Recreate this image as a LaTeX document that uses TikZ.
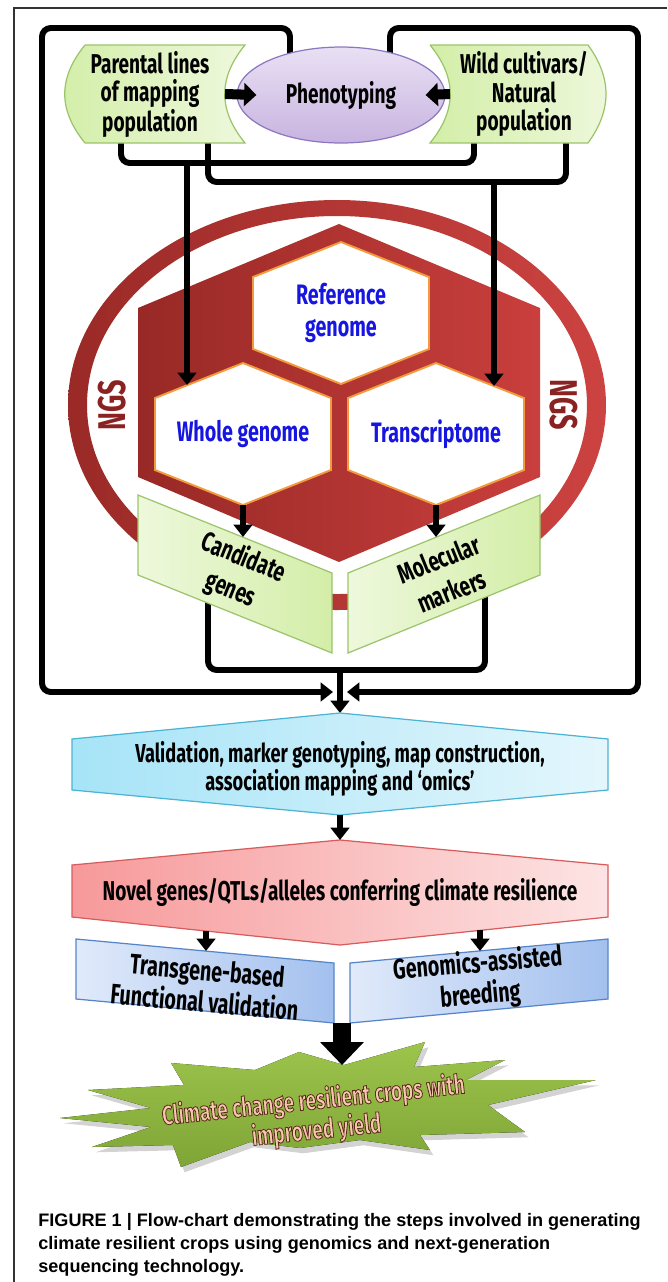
\documentclass[tikz,border=0pt]{standalone}
\usepackage{fontspec}
\usetikzlibrary{positioning,shapes.geometric,arrows.meta,shadows}
\setmainfont{Liberation Sans}
\newfontfamily\agency[FakeStretch=0.7]{Fira Sans}

\definecolor{ringL}{HTML}{9A2A27}
\definecolor{ringR}{HTML}{CC4341}
\definecolor{hexL}{HTML}{982926}
\definecolor{hexR}{HTML}{C93F3D}
\definecolor{hexedge}{HTML}{F39A3C}
\definecolor{hexblue}{HTML}{1616E0}
\definecolor{ngsred}{HTML}{8A2222}
\definecolor{leafA}{HTML}{D3EEA8}
\definecolor{leafB}{HTML}{EEF8DC}
\definecolor{leafedge}{HTML}{9CC46A}
\definecolor{lilacT}{HTML}{E9E0F4}
\definecolor{lilacB}{HTML}{C8B4E0}
\definecolor{lilacedge}{HTML}{8C78C0}
\definecolor{aquaL}{HTML}{A6E4F7}
\definecolor{aquaR}{HTML}{E4F6FC}
\definecolor{aquaedge}{HTML}{4BB4D4}
\definecolor{roseL}{HTML}{F7999A}
\definecolor{roseR}{HTML}{FDE4E4}
\definecolor{roseedge}{HTML}{D85C5C}
\definecolor{skyL}{HTML}{E0EAFA}
\definecolor{skyR}{HTML}{A3C0EE}
\definecolor{skyedge}{HTML}{5585C8}
\definecolor{starT}{HTML}{9DC44C}
\definecolor{starB}{HTML}{7FA536}
\definecolor{startxt}{HTML}{F6C8B0}

\begin{document}
\begin{tikzpicture}[x=0.02cm,y=-0.02cm,
  conn/.style={line width=3.4pt,rounded corners=5pt},
  arr/.style={line width=3.4pt,-{Triangle[width=10.5pt,length=7pt]}},
  blockarr/.style={line width=5.7pt,-{Triangle[width=13pt,length=7pt]}},
  bigarr/.style={line width=10.8pt,-{Triangle[width=24pt,length=13pt]}},
  toptext/.style={font=\agency\bfseries\fontsize{15.5}{16}\selectfont,align=center},
  hextext/.style={font=\agency\bfseries\fontsize{16}{18}\selectfont,align=center,text=hexblue},
  midtext/.style={font=\agency\bfseries\fontsize{15.5}{19.5}\selectfont,align=center},
  flowtext/.style={font=\agency\bfseries\fontsize{14.8}{13.5}\selectfont,align=center},
  boxtext/.style={font=\agency\bfseries\fontsize{16}{18}\selectfont,align=center},
  startext/.style={font=\agency\bfseries\fontsize{15.5}{17}\selectfont,align=center},
  ngstext/.style={font=\agency\bfseries\fontsize{22}{22}\selectfont,text=ngsred},
  leafbox/.style={draw=leafedge,line width=0.7pt,left color=leafA,right color=leafB},
  candbox/.style={draw=leafedge,line width=0.7pt,left color=leafB,right color=leafA},
  whitehex/.style={draw=hexedge,fill=white,line width=1.1pt}]

\useasboundingbox (0,0) rectangle (667,1282);

% frame
\draw[line width=0.7pt,black!80] (14,1282) -- (14,8) -- (667,8);

% connector ends
\coordinate (phenoL) at (290,95);
\coordinate (phenoR) at (390,95);
\coordinate (cornerTL) at (42,28);
\coordinate (cornerTR) at (638,28);
\coordinate (mergeL) at (333,692);
\coordinate (mergeR) at (347,692);
\coordinate (parental-b1) at (121,130);
\coordinate (parental-b2) at (208,130);
\coordinate (wild-b1) at (474,130);
\coordinate (wild-b2) at (566,130);
\coordinate (lineA) at (187,163);
\coordinate (lineB) at (494,182);

\draw[conn,arr] (phenoL) |- (cornerTL) |- (mergeL);
\draw[conn,arr] (phenoR) |- (cornerTR) |- (mergeR);
\draw[conn] (parental-b1) |- (lineA) -| (wild-b1);
\draw[conn] (parental-b2) |- (lineB) -| (wild-b2);

% top row
\draw[leafbox] (85,45) -- (245,45) .. controls (218,78) and (218,110) .. (245,143)
  -- (85,143) .. controls (58,110) and (58,78) .. (85,45);
\draw[leafbox] (430,45) -- (588,45) .. controls (612,78) and (612,110) .. (588,143)
  -- (430,143) .. controls (457,110) and (457,78) .. (430,45);
\node[toptext] (parental) at (150,94) {Parental lines\\of mapping\\population};
\node[toptext] (wild) at (524,94) {Wild cultivars/\\Natural\\population};
\node[ellipse,draw=lilacedge,line width=0.7pt,top color=lilacT,bottom color=lilacB,
  minimum width=4.16cm,minimum height=1.92cm,toptext] (pheno) at (341,95) {Phenotyping};
\coordinate (parental-e) at (225,94);
\coordinate (wild-w) at (450,94);
\draw[blockarr] (parental-e) -- ([xshift=0.4cm]pheno.west);
\draw[blockarr] (wild-w) -- ([xshift=-0.4cm]pheno.east);

% NGS ring and hexagon block
\shade[even odd rule,left color=ringL,right color=ringR]
  (337,405) ellipse [x radius=269,y radius=205]
  (337,405) ellipse [x radius=250,y radius=189];
\node[ngstext,rotate=90] (ngsL) at (112,405) {NGS};
\node[ngstext,rotate=-90] (ngsR) at (564,405) {NGS};
\shade[left color=hexL,right color=hexR]
  (339,224) -- (540,308) -- (540,477) -- (339,562) -- (138,477) -- (138,308) -- cycle;
\foreach \nm/\cx/\cy/\txt in {refg/341/313/{Reference\\genome},whole/243/434/{Whole genome},trans/436/434/{Transcriptome}}{
  \draw[whitehex] (\cx,\cy-71) -- (\cx+88,\cy-36) -- (\cx+88,\cy+36) -- (\cx,\cy+71)
    -- (\cx-88,\cy+36) -- (\cx-88,\cy-36) -- cycle;
  \node[hextext] (\nm) at (\cx,\cy) {\txt};
}
\coordinate (whole-in) at (187,385);
\coordinate (trans-in) at (494,386);
\draw[arr] (lineA) -- (whole-in);
\draw[arr] (lineB) -- (trans-in);

% candidate genes / molecular markers
\coordinate (cand-b) at (208,590);
\coordinate (mol-b) at (485,590);
\coordinate (mergeT) at (340,670);
\draw[conn] (cand-b) |- (mergeT) -| (mol-b);
\draw[candbox] (138,495) -- (332,573) -- (332,653) -- (138,575) -- cycle;
\draw[candbox] (540,495) -- (348,573) -- (348,653) -- (540,575) -- cycle;
\node[midtext,rotate=-22] (cand) at (237,574) {Candidate\\genes};
\node[midtext,rotate=22] (mol) at (445,575) {Molecular\\markers};
\coordinate (whole-out) at (243,505);
\coordinate (trans-out) at (436,505);
\coordinate (cand-t) at (243,537);
\coordinate (mol-t) at (436,537);
\draw[arr] (whole-out) -- (cand-t);
\draw[arr] (trans-out) -- (mol-t);

% validation
\coordinate (valid-t) at (340,713);
\draw[arr] (mergeT) -- (valid-t);
\draw[draw=aquaedge,line width=0.7pt,left color=aquaL,right color=aquaR]
  (340,713) -- (608,739) -- (608,790) -- (340,815) -- (72,790) -- (72,739) -- cycle;
\node[flowtext] (valid) at (340,769) {Validation, marker genotyping, map construction,\\association mapping and ‘omics’};

% novel genes
\draw[draw=roseedge,line width=0.7pt,left color=roseL,right color=roseR]
  (340,840) -- (608,865) -- (608,917) -- (340,945) -- (72,917) -- (72,865) -- cycle;
\node[midtext] (novel) at (340,892) {Novel genes/QTLs/alleles conferring climate resilience};
\coordinate (valid-b) at (340,815);
\coordinate (novel-t) at (340,840);
\draw[arr] (valid-b) -- (novel-t);

% transgene / genomics
\draw[draw=skyedge,line width=0.7pt,left color=skyL,right color=skyR]
  (76,939) -- (334,963) -- (334,1023) -- (76,999) -- cycle;
\draw[draw=skyedge,line width=0.7pt,left color=skyL,right color=skyR]
  (350,963) -- (608,939) -- (608,999) -- (350,1023) -- cycle;
\node[boxtext,rotate=-5] (transgene) at (206,986) {Transgene-based\\Functional validation};
\node[boxtext,rotate=5] (genomics) at (479,980) {Genomics-assisted\\breeding};
\coordinate (novel-l) at (206,931);
\coordinate (novel-r) at (480,930);
\coordinate (transgene-t) at (206,951);
\coordinate (genomics-t) at (480,951);
\draw[arr] (novel-l) -- (transgene-t);
\draw[arr] (novel-r) -- (genomics-t);

% result
\fill[top color=starT,bottom color=starB,drop shadow={opacity=0.35,shadow xshift=2pt,shadow yshift=-3pt}]
  (60,1118) -- (151,1108) -- (88,1090) -- (184,1085) -- (171,1063) -- (255,1070)
  -- (299,1052) -- (344,1065) -- (425,1042) -- (414,1067) -- (505,1060) -- (466,1080)
  -- (596,1080) -- (488,1105) -- (525,1132) -- (420,1135) -- (430,1150) -- (360,1140)
  -- (300,1148) -- (250,1142) -- (181,1167) -- (173,1145) -- (92,1147) -- (151,1127) -- cycle;
\coordinate (boxes-b) at (342,1023);
\coordinate (star-t) at (342,1065);
\draw[bigarr] (boxes-b) -- (star-t);
\node[startext,rotate=6,text=startxt] (result) at (315,1116)
  {\special{pdf:literal direct 2 Tr 0.45 w 0.35 0.16 0.1 RG}Climate change resilient crops with\\improved yield\special{pdf:literal direct 0 Tr}};

% caption
\node[anchor=north west,align=left,inner sep=0pt,font=\bfseries\fontsize{10.3}{13}\selectfont] (caption) at (38,1213)
  {FIGURE 1 | Flow-chart demonstrating the steps involved in generating\\climate resilient crops using genomics and next-generation\\sequencing technology.};
\end{tikzpicture}
\end{document}
